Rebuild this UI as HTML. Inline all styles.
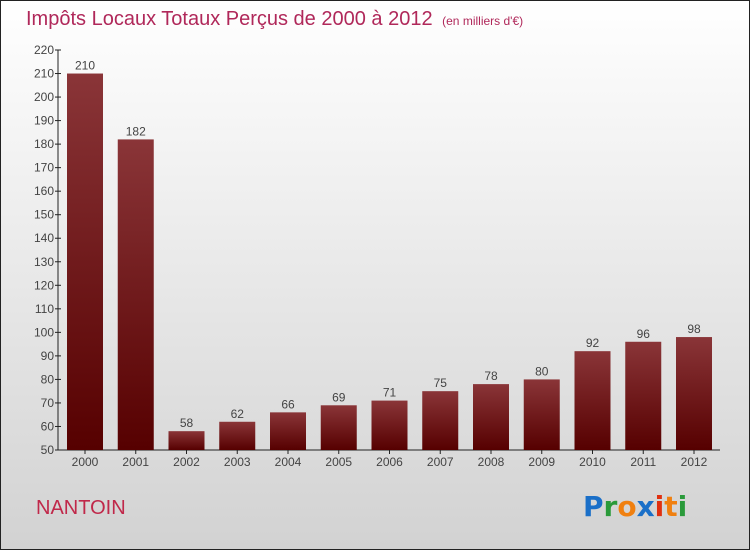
<!DOCTYPE html>
<html><head><meta charset="utf-8"><style>
html,body{margin:0;padding:0}
body{width:750px;height:550px;overflow:hidden;font-family:"Liberation Sans",sans-serif}
</style></head><body>
<svg id="chart" width="750" height="550" xmlns="http://www.w3.org/2000/svg">
<defs>
<linearGradient id="bg" x1="0" y1="0" x2="0" y2="1"><stop offset="0" stop-color="#ffffff"/><stop offset="1" stop-color="#d2d2d2"/></linearGradient>
<linearGradient id="bar" x1="0" y1="0" x2="0" y2="1"><stop offset="0" stop-color="#8a3538"/><stop offset="1" stop-color="#560000"/></linearGradient>
</defs>
<rect x="0.5" y="0.5" width="749" height="549" fill="url(#bg)" stroke="#222" stroke-width="1"/>
<text x="26" y="25" font-size="20" fill="#b0285a">Impôts Locaux Totaux Perçus de 2000 à 2012 <tspan font-size="12" dx="4">(en milliers d'€)</tspan></text>
<text x="36" y="514" font-size="20" fill="#c0284a">NANTOIN</text>
<g font-size="28" font-weight="bold" font-family="'DejaVu Sans',sans-serif">
<text x="583" y="516"><tspan fill="#1a6fc8">P</tspan><tspan fill="#2a9a3a">r</tspan><tspan fill="#f08010">o</tspan><tspan fill="#1a6fc8">x</tspan><tspan fill="#e03010">i</tspan><tspan fill="#f08010">t</tspan><tspan fill="#2a9a3a">i</tspan></text>
</g>
<g id="axes"></g>
<g id="bars"></g>
</svg>
<script>
const years=["2000","2001","2002","2003","2004","2005","2006","2007","2008","2009","2010","2011","2012"];
const values=[210,182,58,62,66,69,71,75,78,80,92,96,98];
const ticks=[50,60,70,80,90,100,110,120,130,140,150,160,170,180,190,200,210,220];
const NS="http://www.w3.org/2000/svg";
const y0=450,y1=50,vmin=50,vmax=220;
const y=v=>y0-(v-vmin)*(y0-y1)/(vmax-vmin);
const x=i=>85+i*50.75;
function mk(t,a,p){const e=document.createElementNS(NS,t);for(const k in a)e.setAttribute(k,a[k]);p.appendChild(e);return e;}
const ax=document.getElementById('axes'),bg=document.getElementById('bars');
const al=mk('line',{x1:58,y1:y1,x2:58,y2:y0,stroke:'#222'},ax);


const xl=mk('line',{x1:58,y1:y0,x2:720,y2:y0,stroke:'#222'},ax);


ticks.forEach(t=>{
 const l=mk('line',{x1:55,y1:y(t),x2:61,y2:y(t),stroke:'#222'},ax);
 
 
 const tx=mk('text',{x:54,y:y(t)+4,'text-anchor':'end','font-size':12,fill:'#444'},ax);
 tx.textContent=t;
 
 
});
years.forEach((yr,i)=>{
 const v=values[i];
 const r=mk('rect',{x:x(i)-18,y:y(v),width:36,height:y0-y(v),fill:'url(#bar)'},bg);
 
 
 const lb=mk('text',{x:x(i),y:y(v)-4,'text-anchor':'middle','font-size':12,fill:'#444'},bg);
 lb.textContent=v;
 
 
 const tk=mk('line',{x1:x(i),y1:y0,x2:x(i),y2:y0+4,stroke:'#222'},ax);
 
 
 const xt=mk('text',{x:x(i),y:y0+16,'text-anchor':'middle','font-size':12,fill:'#444'},ax);
 xt.textContent=yr;
 
 
});
</script>
</body></html>
